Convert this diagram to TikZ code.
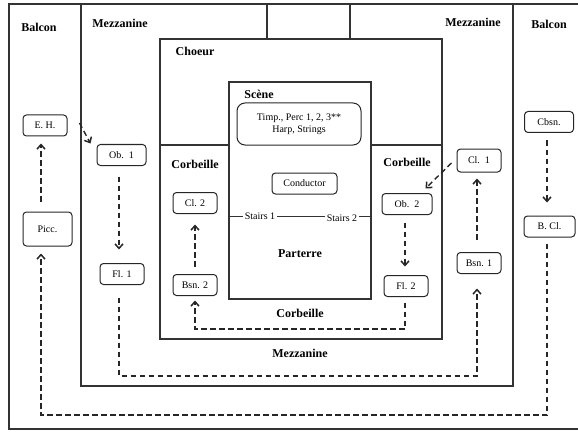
\documentclass[tikz,border=0pt]{standalone}
\usepackage{fontspec}
\setmainfont{Liberation Serif}
\usetikzlibrary{arrows.meta,calc}
\begin{document}
\begin{tikzpicture}[x=1pt,y=-1pt,
  wall/.style={draw=black!80,line width=1.1pt},
  zone/.style={font=\bfseries\fontsize{12}{14}\selectfont,inner sep=0pt},
  inst/.style={draw=black!85,line width=1pt,rounded corners=3.5pt,minimum height=21pt,font=\fontsize{10}{12}\selectfont,inner sep=1pt},
  flow/.style={draw=black!85,line width=1.4pt,dash pattern=on 5.5pt off 3.5pt,-{Straight Barb[length=4.5pt,width=8pt,line width=1.5pt]}},
  stair/.style={fill=white,font=\fontsize{10}{12}\selectfont,inner sep=1.5pt}]
\useasboundingbox (0,0) rectangle (578,433);
% walls
\draw[wall] (580,4) -- (9,4) -- (9,429) -- (580,429);
\draw[wall] (81,4) -- (81,386) -- (513,386) -- (513,4);
\draw[wall] (267,4) -- (267,39) -- (350,39) -- (350,4);
\draw[wall] (160,39) rectangle (442,339);
\draw[wall] (229,82) rectangle (371,299);
\draw[wall] (160,145) -- (229,145);
\draw[wall] (371,145) -- (442,145);
\draw[wall] (229,216.5) -- (371,216.5);
% zone labels
\node[zone] (balconL) at (39,27) {Balcon};
\node[zone] (mezzL) at (120,23) {Mezzanine};
\node[zone] (mezzR) at (473,22) {Mezzanine};
\node[zone] (balconR) at (549,24) {Balcon};
\node[zone] (choeur) at (195,51) {Choeur};
\node[zone] (scene) at (259,94) {Scène};
\node[zone] (corbL) at (195,164) {Corbeille};
\node[zone] (corbR) at (407,162) {Corbeille};
\node[zone] (parterre) at (300,254) {Parterre};
\node[zone] (corbB) at (300,313) {Corbeille};
\node[zone] (mezzB) at (300,353) {Mezzanine};
\node[stair] (st1) at (260,216.5) {Stairs 1};
\node[stair] (st2) at (342,218.5) {Stairs 2};
% instruments
\node[draw=black!85,line width=1pt,rounded corners=8pt,minimum width=124pt,minimum height=42pt,align=center,font=\fontsize{10}{12}\selectfont] (timp) at (299,124) {Timp., Perc 1, 2, 3**\\Harp, Strings};
\node[inst,minimum width=65pt] (cond) at (304.5,183.5) {Conductor};
\node[inst,minimum width=44pt] (eh) at (45,125.5) {E. H.};
\node[inst,minimum width=49pt,minimum height=34pt] (picc) at (47.5,229) {Picc.};
\node[inst,minimum width=49pt] (ob1) at (121.5,155) {Ob.\ \ 1};
\node[inst,minimum width=44pt] (fl1) at (122,274) {Fl. 1};
\node[inst,minimum width=44pt] (cl2) at (195,203) {Cl. 2};
\node[inst,minimum width=44pt] (bsn2) at (195,285) {Bsn. 2};
\node[inst,minimum width=50pt] (ob2) at (407,204) {Ob.\ \ 2};
\node[inst,minimum width=44pt] (fl2) at (406,286) {Fl. 2};
\node[inst,minimum width=44pt,minimum height=23pt] (cl1) at (479,160.5) {Cl.\ \ 1};
\node[inst,minimum width=44pt] (bsn1) at (479,263) {Bsn. 1};
\node[inst,minimum width=49pt] (cbsn) at (549,122) {Cbsn.};
\node[inst,minimum width=51pt] (bcl) at (549.5,226.5) {B. Cl.};
% connectors
\draw[flow] ($(picc.north)+(-6.5,-10)$) -- ($(eh.south)+(-4,7)$);
\draw[flow] ($(eh.east)+(12,-2.5)$) -- ($(ob1.north west)+(-6,-0.5)$);
\draw[flow] ($(ob1.south)+(-2.5,10.5)$) -- ($(fl1.north)+(-3,-13.5)$);
\draw[flow] ($(fl1.south)+(-3,12.5)$) |- (477,376) -- ($(bsn1.south)+(-2,14.5)$);
\draw[flow] ($(bsn1.north)+(-2,-12.5)$) -- ($(cl1.south)+(-2,6)$);
\draw[flow] ($(cl1.west)+(-5,2.5)$) -- ($(ob2.north east)+(-7,-4.5)$);
\draw[flow] ($(ob2.south)+(-2,7.5)$) -- ($(fl2.north)+(-1,-8.5)$);
\draw[flow] ($(fl2.south)+(-1,5.5)$) |- (195,329) -- ($(bsn2.south)+(0,4.5)$);
\draw[flow] ($(bsn2.north)+(0,-7.5)$) -- ($(cl2.south)+(0,10.5)$);
\draw[flow] ($(cbsn.south)+(-2,7.5)$) -- ($(bcl.north)+(-2.5,-13)$);
\draw[flow] ($(bcl.south)+(-2.5,6)$) |- (41,415) -- ($(picc.south)+(-6.5,7)$);
\end{tikzpicture}
\end{document}
